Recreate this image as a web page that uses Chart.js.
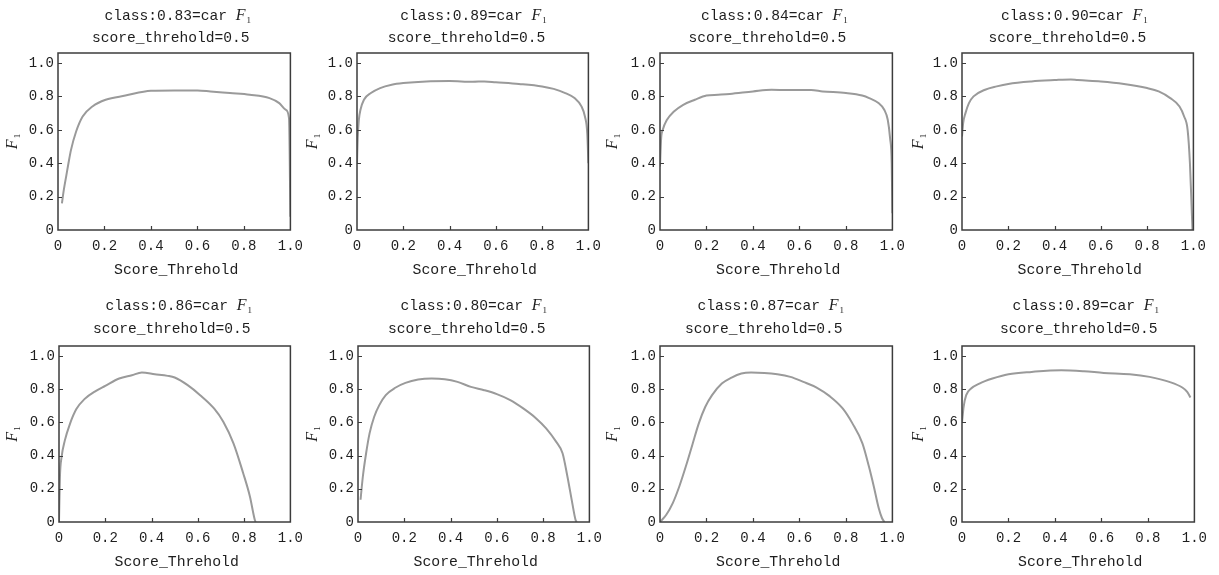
<!DOCTYPE html>
<html><head><meta charset="utf-8">
<script src="https://cdn.jsdelivr.net/npm/chart.js@4.4.1/dist/chart.umd.min.js"></script>
<style>
html,body{margin:0;padding:0;background:#fff;}
#wrap{position:relative;width:1219px;height:575px;overflow:hidden;background:#fff;}
#wrap canvas{position:absolute;}
</style></head><body><div id="wrap"></div>
<script>
// ---------- data ----------
const classScores = ['0.83','0.89','0.84','0.90','0.86','0.80','0.87','0.89'];
const subtitleText = 'score_threhold=0.5';
const xAxisTitle = 'Score_Threhold';
const xTicks = [0, 0.2, 0.4, 0.6, 0.8, 1.0];
const yTicks = [0, 0.2, 0.4, 0.6, 0.8, 1.0];

const thrA = [0.017,0.025,0.035,0.045,0.056,0.078,0.106,0.148,0.205,0.29,0.40,0.50,0.60,0.656,0.74,0.825,0.91,0.952,0.98,0.994,1.0];
const f1A  = [0.16,0.24,0.32,0.40,0.48,0.59,0.68,0.74,0.78,0.805,0.834,0.836,0.836,0.83,0.82,0.81,0.79,0.76,0.72,0.67,0.08];

const thrB = [0.0,0.003,0.008,0.015,0.03,0.06,0.10,0.15,0.2,0.3,0.4,0.5,0.55,0.6,0.7,0.8,0.85,0.9,0.94,0.97,0.985,0.995,1.0];
const f1B  = [0.40,0.55,0.66,0.72,0.78,0.82,0.85,0.87,0.88,0.89,0.892,0.888,0.89,0.885,0.875,0.86,0.845,0.82,0.79,0.74,0.68,0.58,0.40];

const thrC = [0.0,0.005,0.012,0.03,0.06,0.1,0.15,0.2,0.25,0.3,0.4,0.48,0.55,0.65,0.7,0.8,0.87,0.9,0.94,0.965,0.98,0.99,0.997,1.0];
const f1C  = [0.38,0.55,0.60,0.66,0.71,0.75,0.78,0.805,0.81,0.815,0.83,0.84,0.838,0.838,0.83,0.82,0.805,0.79,0.76,0.72,0.66,0.55,0.40,0.10];

const thrD = [0.0,0.005,0.015,0.03,0.05,0.1,0.15,0.2,0.3,0.4,0.47,0.5,0.6,0.7,0.8,0.85,0.9,0.94,0.96,0.975,0.985,0.992,0.996];
const f1D  = [0.56,0.64,0.70,0.76,0.80,0.84,0.86,0.875,0.89,0.898,0.902,0.898,0.89,0.875,0.85,0.83,0.79,0.74,0.68,0.60,0.40,0.15,0.0];

const thrE = [0.0,0.004,0.011,0.025,0.047,0.075,0.11,0.16,0.2,0.26,0.315,0.358,0.414,0.47,0.5,0.556,0.61,0.67,0.71,0.754,0.796,0.825,0.846,0.85];
const f1E  = [0.0,0.27,0.39,0.49,0.59,0.68,0.74,0.79,0.82,0.864,0.884,0.9,0.89,0.88,0.87,0.824,0.764,0.684,0.604,0.474,0.294,0.154,0.014,0.0];

const thrF = [0.011,0.021,0.035,0.05,0.07,0.092,0.12,0.163,0.205,0.26,0.318,0.375,0.43,0.488,0.545,0.6,0.658,0.714,0.77,0.813,0.856,0.884,0.905,0.926,0.94,0.945];
const f1F  = [0.134,0.274,0.414,0.534,0.634,0.704,0.764,0.81,0.838,0.858,0.864,0.86,0.844,0.814,0.794,0.77,0.734,0.684,0.624,0.564,0.484,0.414,0.274,0.114,0.014,0.0];

const thrG = [0.0,0.027,0.055,0.083,0.111,0.139,0.167,0.195,0.224,0.266,0.308,0.35,0.392,0.449,0.505,0.561,0.617,0.674,0.73,0.786,0.828,0.871,0.899,0.92,0.941,0.955,0.966];
const f1G  = [0.0,0.044,0.114,0.214,0.334,0.464,0.594,0.694,0.764,0.834,0.87,0.894,0.9,0.898,0.89,0.874,0.844,0.81,0.758,0.684,0.594,0.474,0.334,0.214,0.084,0.024,0.0];

const thrH = [0.0,0.007,0.018,0.039,0.075,0.131,0.2,0.3,0.427,0.525,0.61,0.722,0.807,0.892,0.948,0.969,0.983];
const f1H  = [0.6,0.694,0.764,0.804,0.834,0.864,0.89,0.904,0.914,0.908,0.898,0.89,0.874,0.844,0.81,0.784,0.75];

const seriesX = [thrA, thrB, thrC, thrD, thrE, thrF, thrG, thrH];
const seriesY = [f1A, f1B, f1C, f1D, f1E, f1F, f1G, f1H];

// ---------- layout (page positions of each plot frame: left, top, right, bottom) ----------
const frames = [
  [58,53,295,230],[357,53,593,230],[660,53,897,230],[962,53,1198,230],
  [59,346,295,522],[358,346,594,522],[660,346,897,522],[962,346,1199,522]
];
const titleShift = [3.5,0.8,-1.8,-3.3,4,0,-5.5,7.5];
const yTitleShift = [-46,-45,-48,-44,-47,-46,-48,-44];
const titleRowY = [[-37,-15],[-40,-17]];

const MONO = '"Liberation Mono","DejaVu Sans Mono",monospace';
const SERIF = '"Liberation Serif","DejaVu Serif",serif';
const TEXT = '#1e1e1e';
const FRAME = '#3c3c3c';
const LINE = '#9a9a9a';

function drawF1(ctx, x, baseline) {
  ctx.font = 'italic 16px ' + SERIF;
  ctx.textAlign = 'left';
  ctx.textBaseline = 'alphabetic';
  ctx.fillText('F', x, baseline);
  const wF = ctx.measureText('F').width;
  ctx.font = '9px ' + SERIF;
  ctx.fillText('1', x + wF + 1, baseline + 3);
  return wF + 1 + ctx.measureText('1').width;
}
function widthF1(ctx) {
  ctx.font = 'italic 16px ' + SERIF;
  const wF = ctx.measureText('F').width;
  ctx.font = '9px ' + SERIF;
  return wF + 1 + ctx.measureText('1').width;
}

const decoPlugin = {
  id: 'deco',
  afterDraw(chart) {
    const o = chart.options.plugins.deco;
    const ctx = chart.ctx;
    const a = chart.chartArea;
    const xs = chart.scales.x, ys = chart.scales.y;
    ctx.save();
    // inward tick marks
    ctx.strokeStyle = FRAME; ctx.lineWidth = 1.2;
    ctx.beginPath();
    xTicks.forEach(v => { if (v > 0 && v < 1) { const p = Math.round(xs.getPixelForValue(v)) + 0.5; ctx.moveTo(p, a.bottom); ctx.lineTo(p, a.bottom - 4); } });
    yTicks.forEach(v => { if (v > 0) { const p = Math.round(ys.getPixelForValue(v)) + 0.5; ctx.moveTo(a.left, p); ctx.lineTo(a.left + 4, p); } });
    ctx.stroke();
    // frame
    ctx.lineWidth = 1.5;
    ctx.strokeRect(a.left, a.top, a.right - a.left, a.bottom - a.top);
    // titles
    ctx.fillStyle = TEXT;
    const cx = (a.left + a.right) / 2 + o.shift;
    const t1 = 'class:' + o.score + '=car ';
    ctx.font = '14.6px ' + MONO;
    const w1 = ctx.measureText(t1).width;
    const total = w1 + widthF1(ctx);
    const x1 = cx - total / 2;
    ctx.font = '14.6px ' + MONO;
    ctx.textAlign = 'left'; ctx.textBaseline = 'alphabetic';
    const b1 = a.top + o.rowY[0] + 4;
    ctx.fillText(t1, x1, b1);
    drawF1(ctx, x1 + w1, b1);
    ctx.font = '14.6px ' + MONO;
    ctx.textAlign = 'center';
    ctx.fillText(subtitleText, cx - 7, a.top + o.rowY[1] + 4);
    // x-axis title
    ctx.font = '14.8px ' + MONO;
    ctx.textBaseline = 'middle';
    ctx.fillText(xAxisTitle, (a.left + a.right) / 2 + 2, a.bottom + 40);
    // y-axis title (rotated)
    ctx.translate(a.left + o.yShift, (a.top + a.bottom) / 2);
    ctx.rotate(-Math.PI / 2);
    const wf = widthF1(ctx);
    drawF1(ctx, -wf / 2, 5);
    ctx.restore();
  }
};

const wrap = document.getElementById('wrap');
const fmt = v => (v === 0 ? '0' : v.toFixed(1));

frames.forEach((f, i) => {
  const [L, T, R, B] = f;
  const cv = document.createElement('canvas');
  const w = R - L + 58 + 16, h = B - T + 53 + 55;
  cv.width = w; cv.height = h;
  cv.style.left = (L - 58) + 'px'; cv.style.top = (T - 53) + 'px';
  cv.style.width = w + 'px'; cv.style.height = h + 'px';
  wrap.appendChild(cv);
  const pts = seriesX[i].map((x, k) => ({ x: x, y: seriesY[i][k] }));
  new Chart(cv, {
    type: 'line',
    data: { datasets: [{ data: pts, borderColor: LINE, borderWidth: 2, pointRadius: 0, fill: false, cubicInterpolationMode: 'monotone' }] },
    options: {
      responsive: false, animation: false, devicePixelRatio: 1,
      layout: { padding: { left: 0, top: 53, right: 16, bottom: 0 } },
      plugins: {
        legend: { display: false }, tooltip: { enabled: false }, title: { display: false },
        deco: { score: classScores[i], shift: titleShift[i], yShift: yTitleShift[i], rowY: titleRowY[i < 4 ? 0 : 1] }
      },
      scales: {
        x: {
          type: 'linear', min: 0, max: 1,
          afterBuildTicks: s => { s.ticks = xTicks.map(v => ({ value: v })); },
          afterFit: s => { s.height = 55; },
          grid: { display: false, drawTicks: false }, border: { display: false },
          ticks: { padding: 8, maxRotation: 0, minRotation: 0, autoSkip: false, color: TEXT, font: { family: MONO, size: 14 }, callback: fmt }
        },
        y: {
          type: 'linear', min: 0, max: 1.06,
          afterBuildTicks: s => { s.ticks = yTicks.map(v => ({ value: v })); },
          afterFit: s => { s.width = 58; },
          grid: { display: false, drawTicks: false }, border: { display: false },
          ticks: { padding: 4, autoSkip: false, color: TEXT, font: { family: MONO, size: 14 }, callback: fmt }
        }
      }
    },
    plugins: [decoPlugin]
  });
});
</script>
</body></html>
